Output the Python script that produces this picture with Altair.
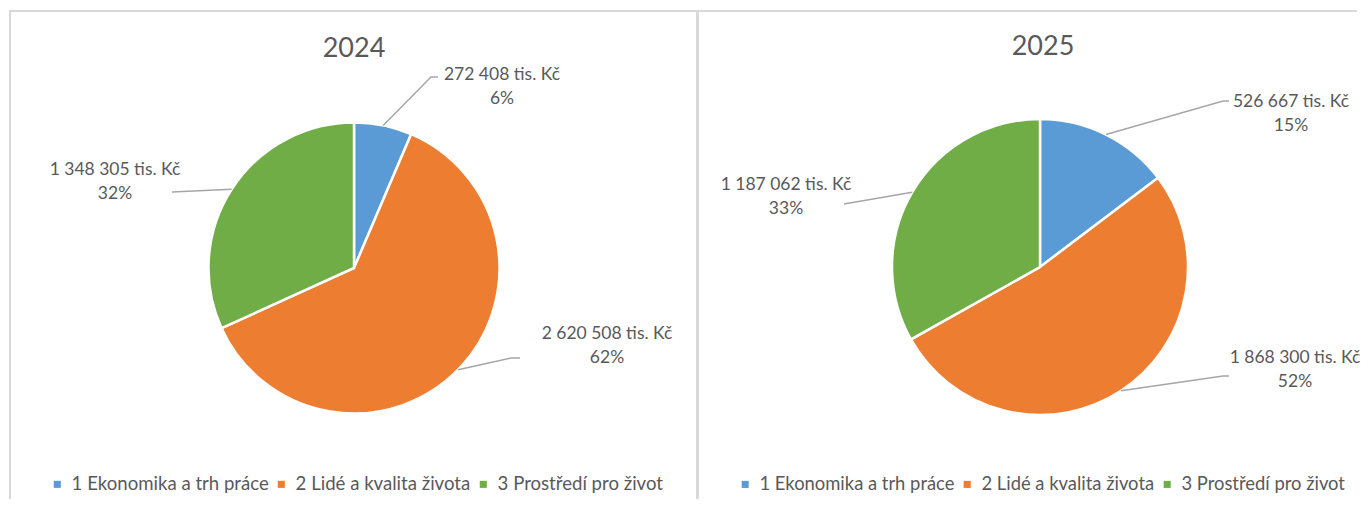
import math
import altair as alt
import pandas as pd

# ---------------- data ----------------
categories = ["1 Ekonomika a trh práce", "2 Lidé a kvalita života", "3 Prostředí pro život"]
years = ["2024", "2025"]
values_2024 = [272408, 2620508, 1348305]
values_2025 = [526667, 1868300, 1187062]
colors = ["#5B9BD5", "#ED7D31", "#70AD47"]

# ---------------- layout (pixels inside each panel) ----------------
FONT = "Lato"
TEXT_COLOR = "#595959"
PANEL_W = [688, 660]
PANEL_H = 490
PIE_CENTER = [(345, 259), (343, 258)]
PIE_R = [145.5, 148]
TITLE_POS = [(345, 40), (346, 38)]
TITLE_SIZE = [27, 27]
LABEL_SIZE = [17.5, 17.5]
LEGEND_SIZE = [18.6, 18.4]
LABEL_POS = [[(493, 66), (598, 325), (106, 161)],
             [(594, 93), (598, 349), (89, 176)]]
LEADER_PTS = [[[(422, 68), (429, 68)], [(502, 349), (511, 349)], [(163, 183)]],
              [[(526, 92), (532, 92)], [(526, 367), (532, 367)], [(147, 195)]]]
LINE_GAP = 24
LEGEND_POS = [(39, 466), (39, 466)]


def fmt(v):
    return f"{v:,}".replace(",", " ") + " tis. Kč"


def panel(i, values):
    cx, cy = PIE_CENTER[i]
    R = PIE_R[i]
    total = sum(values)
    df = pd.DataFrame({
        "category": categories,
        "value": values,
        "order": list(range(len(values))),
    })
    df["amount"] = [fmt(v) for v in values]
    df["pct"] = [f"{round(v / total * 100)}%" for v in values]
    df["lx"] = [p[0] for p in LABEL_POS[i]]
    df["ly"] = [p[1] for p in LABEL_POS[i]]
    df["ly2"] = df["ly"] + LINE_GAP

    # leader lines: start on the slice edge at its mid-angle
    rows = []
    cum = 0.0
    for k, v in enumerate(values):
        mid = (cum + v / 2) / total * 2 * math.pi
        cum += v
        pts = [(cx + R * math.sin(mid), cy - R * math.cos(mid))] + LEADER_PTS[i][k]
        for s, (px, py) in enumerate(pts):
            rows.append({"category": categories[k], "seq": s, "px": px, "py": py})
    lines = pd.DataFrame(rows)

    legend = alt.Legend(
        orient="none", legendX=LEGEND_POS[i][0], legendY=LEGEND_POS[i][1],
        direction="horizontal", title=None, symbolType="square", symbolSize=50,
        symbolStrokeWidth=0, labelFont=FONT, labelFontSize=LEGEND_SIZE[i], labelColor=TEXT_COLOR,
        columnPadding=3, labelOffset=5, labelLimit=400,
    )

    arcs = alt.Chart(df).mark_arc(outerRadius=R, stroke="white", strokeWidth=2.5).encode(
        theta=alt.Theta("value:Q", stack=True),
        color=alt.Color("category:N", scale=alt.Scale(domain=categories, range=colors), legend=legend),
        order=alt.Order("order:Q"),
        x=alt.value(cx), y=alt.value(cy),
    )
    leader = alt.Chart(lines).mark_line(color="#A6A6A6", strokeWidth=1.5).encode(
        x=alt.X("px:Q", scale=None, axis=None),
        y=alt.Y("py:Q", scale=None, axis=None),
        detail="category:N",
        order="seq:Q",
    )
    t1 = alt.Chart(df).mark_text(font=FONT, fontSize=LABEL_SIZE[i], color=TEXT_COLOR, baseline="middle").encode(
        x=alt.X("lx:Q", scale=None, axis=None), y=alt.Y("ly:Q", scale=None, axis=None), text="amount:N")
    t2 = alt.Chart(df).mark_text(font=FONT, fontSize=LABEL_SIZE[i], color=TEXT_COLOR, baseline="middle").encode(
        x=alt.X("lx:Q", scale=None, axis=None), y=alt.Y("ly2:Q", scale=None, axis=None), text="pct:N")
    title = alt.Chart(pd.DataFrame({"year": [years[i]]})).mark_text(
        font=FONT, fontSize=TITLE_SIZE[i], color=TEXT_COLOR, baseline="middle").encode(
        x=alt.value(TITLE_POS[i][0]), y=alt.value(TITLE_POS[i][1]), text="year:N")

    one = pd.DataFrame({"a": [0]})
    border_style = dict(color="#D9D9D9")
    top = alt.Chart(one).mark_rule(strokeWidth=2, **border_style).encode(
        x=alt.value(0), x2=alt.value(PANEL_W[i]), y=alt.value(2))
    if i == 0:
        side = alt.Chart(one).mark_rule(strokeWidth=2, **border_style).encode(
            x=alt.value(1), y=alt.value(1), y2=alt.value(PANEL_H))
    else:
        side = alt.Chart(one).mark_rule(strokeWidth=3, **border_style).encode(
            x=alt.value(0.5), y=alt.value(1), y2=alt.value(PANEL_H))

    return alt.layer(top, side, arcs, leader, t1, t2, title).properties(
        width=PANEL_W[i], height=PANEL_H)


chart = alt.hconcat(panel(0, values_2024), panel(1, values_2025), spacing=0, bounds="flush").resolve_scale(
    color="independent", theta="independent"
).properties(padding=0).configure_view(stroke=None)

chart.save("out.html", embed_options={"renderer": "svg", "actions": False})
